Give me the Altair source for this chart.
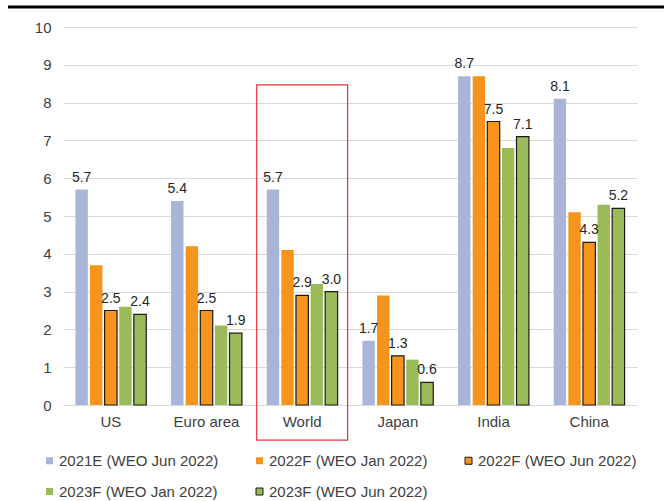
import altair as alt
import pandas as pd

categories = ["US", "Euro area", "World", "Japan", "India", "China"]
series = ["2021E (WEO Jun 2022)", "2022F (WEO Jan 2022)", "2022F (WEO Jun 2022)",
          "2023F (WEO Jan 2022)", "2023F (WEO Jun 2022)"]
v2021E_jun = [5.7, 5.4, 5.7, 1.7, 8.7, 8.1]
v2022F_jan = [3.7, 4.2, 4.1, 2.9, 8.7, 5.1]
v2022F_jun = [2.5, 2.5, 2.9, 1.3, 7.5, 4.3]
v2023F_jan = [2.6, 2.1, 3.2, 1.2, 6.8, 5.3]
v2023F_jun = [2.4, 1.9, 3.0, 0.6, 7.1, 5.2]
labelled = [True, False, True, False, True]
fills = ["#a9b4d9", "#f7941d", "#f7941d", "#9bbb59", "#9bbb59"]
strokes = ["transparent", "transparent", "#1a1a1a", "transparent", "#1a1a1a"]
y_ticks = [0, 1, 2, 3, 4, 5, 6, 7, 8, 9, 10]

highlight_category = ["World"]
highlight_top = [8.47]
highlight_bottom = [-0.93]

all_values = [v2021E_jun, v2022F_jan, v2022F_jun, v2023F_jan, v2023F_jun]
rows = []
for s, vals, lab in zip(series, all_values, labelled):
    for c, v in zip(categories, vals):
        rows.append({"Category": c, "Series": s, "Value": v, "Labelled": lab})
df = pd.DataFrame(rows)
hl = pd.DataFrame({"Category": highlight_category, "Top": highlight_top, "Bottom": highlight_bottom})

FONT = "Liberation Sans"

x_axis = alt.Axis(title=None, labelAngle=0, ticks=False, domain=True,
                  domainColor="#d9d9d9", domainWidth=1, labelFontSize=15,
                  labelColor="#404040", labelPadding=9, labelFont=FONT)
x_scale = alt.Scale(domain=categories, paddingInner=0, paddingOuter=0)
y_axis = alt.Axis(title=None, values=y_ticks, ticks=False, domain=False,
                  gridColor="#d9d9d9", gridWidth=1, labelFontSize=15, labelOverlap=False,
                  labelColor="#404040", labelPadding=12, labelFont=FONT)
y_scale = alt.Scale(domain=[0, 10])

x = alt.X("Category:N", sort=categories, scale=x_scale, axis=x_axis)
xo = alt.XOffset("Series:N", sort=series,
                 scale=alt.Scale(domain=series, paddingInner=0.15, paddingOuter=0.85))
y = alt.Y("Value:Q", scale=y_scale, axis=y_axis)

legend = alt.Legend(title=None, orient="none", direction="horizontal", legendX=-21, legendY=426,
                    columns=3, columnPadding=33, rowPadding=15, symbolType="square",
                    symbolSize=49, symbolStrokeWidth=1, labelFontSize=15, labelFont=FONT,
                    labelColor="#404040", labelLimit=300, padding=0, labelOffset=2)

bars = alt.Chart(df).mark_bar(strokeWidth=1.2).encode(
    x=x, xOffset=xo, y=y,
    color=alt.Color("Series:N", sort=series, scale=alt.Scale(domain=series, range=fills), legend=legend),
    stroke=alt.Stroke("Series:N", sort=series, scale=alt.Scale(domain=series, range=strokes), legend=legend),
)

text = alt.Chart(df).transform_filter("datum.Labelled").mark_text(
    baseline="bottom", dy=-5, fontSize=14, font=FONT, color="#262626"
).encode(x=x, xOffset=xo, y=y, text=alt.Text("Value:Q", format=".1f"))

rect = alt.Chart(hl).mark_bar(fill="transparent", stroke="#e8303a", strokeWidth=1.2,
                              width=alt.RelativeBandSize(0.95)).encode(
    x=alt.X("Category:N", sort=categories, scale=x_scale, axis=x_axis),
    y=alt.Y("Top:Q", scale=y_scale, axis=y_axis), y2="Bottom:Q")

topline = alt.Chart(hl).mark_rule(color="black", strokeWidth=3).encode(
    x=alt.value(-55), x2=alt.value(601), y=alt.value(-20))

chart = alt.layer(bars, text, rect, topline).properties(
    width=574, height=378,
    autosize=alt.AutoSizeParams(type="none"),
    padding={"left": 63, "top": 27, "right": 27, "bottom": 96},
).configure_view(stroke=None).resolve_scale(x="shared", y="shared")

chart.save("out.html", embed_options={"renderer": "svg", "actions": False})
